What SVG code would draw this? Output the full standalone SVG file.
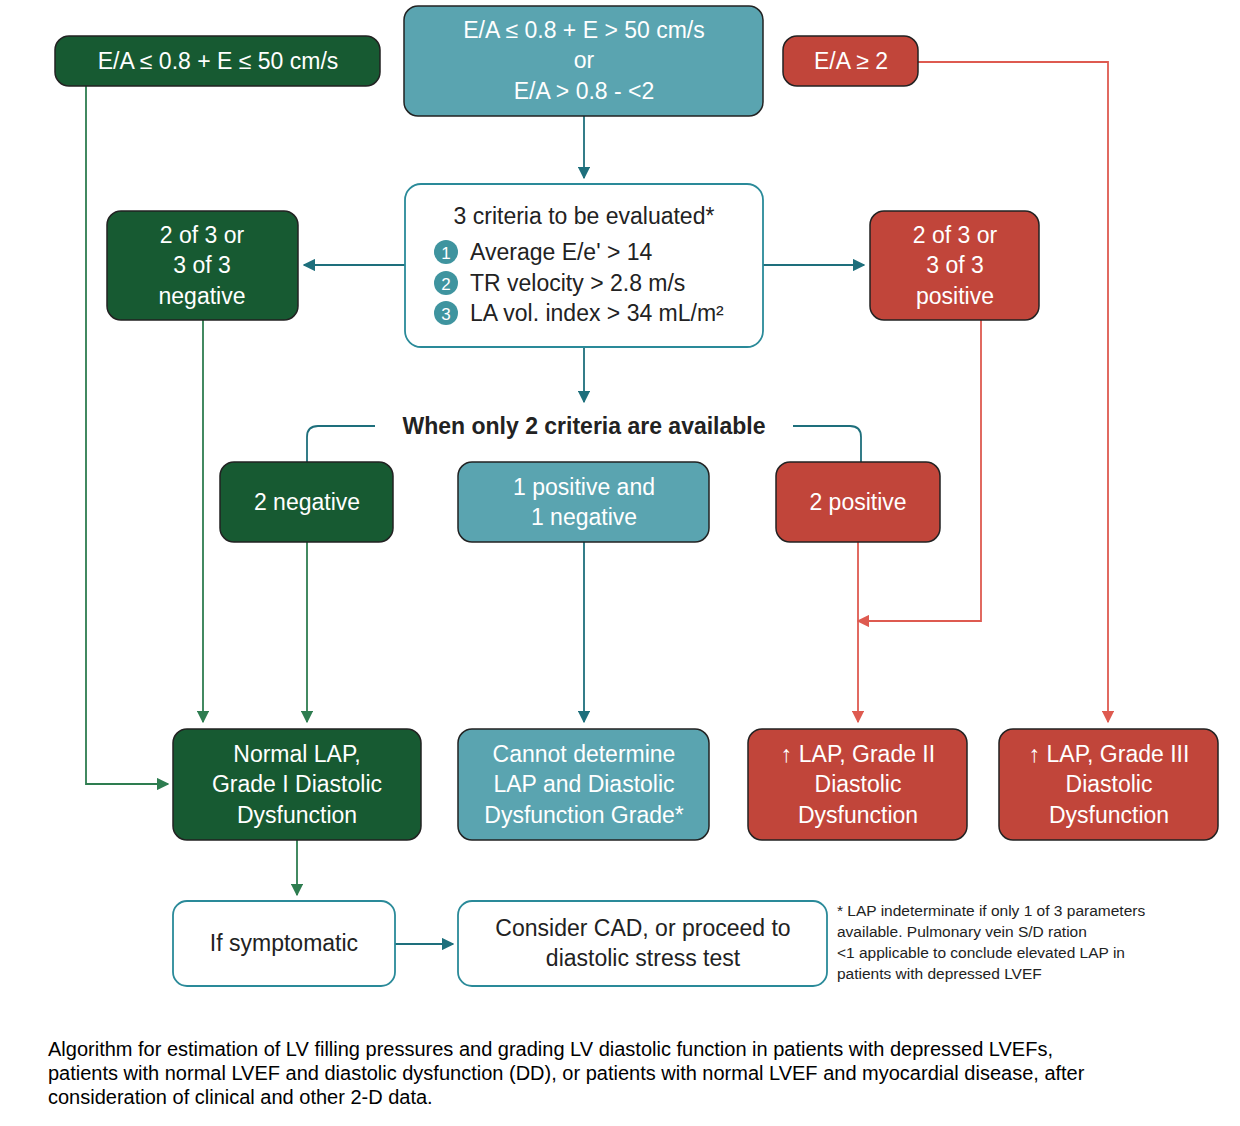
<svg xmlns="http://www.w3.org/2000/svg" width="1240" height="1126" viewBox="0 0 1240 1126">
<style>
text{font-family:"Liberation Sans",Arial,sans-serif;font-size:23px;text-anchor:middle}
.g{fill:#175a32;stroke:#222;stroke-width:1.5}
.t{fill:#5aa4b0;stroke:#222;stroke-width:1.5}
.r{fill:#c1453a;stroke:#222;stroke-width:1.5}
.w{fill:#fff;stroke:#2a8a99;stroke-width:1.8}
.lt{fill:#fff}
.dk{fill:#222}
.cg{stroke:#2e7d50;stroke-width:1.8;fill:none;marker-end:url(#ag)}
.ct{stroke:#1e6f7c;stroke-width:1.8;fill:none;marker-end:url(#at)}
.cr{stroke:#de5a50;stroke-width:1.8;fill:none;marker-end:url(#ar)}
.n{stroke:#1e6f7c;stroke-width:1.8;fill:none}
</style>
<defs>
<marker id="ag" viewBox="0 0 10 10" refX="9" refY="5" markerWidth="7" markerHeight="7" orient="auto"><path d="M0,0L10,5L0,10z" fill="#2e7d50"/></marker>
<marker id="at" viewBox="0 0 10 10" refX="9" refY="5" markerWidth="7" markerHeight="7" orient="auto"><path d="M0,0L10,5L0,10z" fill="#1e6f7c"/></marker>
<marker id="ar" viewBox="0 0 10 10" refX="9" refY="5" markerWidth="7" markerHeight="7" orient="auto"><path d="M0,0L10,5L0,10z" fill="#de5a50"/></marker>
</defs>
<rect width="1240" height="1126" fill="#fff"/>
<g id="connectors">
<path class="cg" d="M86,86V784H168"/>
<path class="ct" d="M584,116V178"/>
<path class="ct" d="M405,265H304"/>
<path class="ct" d="M763,265H864"/>
<path class="ct" d="M584,347V402"/>
<path class="n" d="M375,426H318Q307,426 307,437V462"/>
<path class="n" d="M793,426H850Q861,426 861,437V462"/>
<path class="cg" d="M203,320V722"/>
<path class="cg" d="M307,542V722"/>
<path class="ct" d="M584,542V722"/>
<path class="cr" d="M858,542V722"/>
<path class="cr" d="M981,320V621H858"/>
<path class="cr" d="M918,62H1108V722"/>
<path class="cg" d="M297,840V895"/>
<path class="ct" d="M395,944H453"/>
</g>
<g id="n1"><rect class="g" x="55" y="36" width="325" height="50" rx="14"/><text class="lt" x="218" y="69">E/A ≤ 0.8 + E ≤ 50 cm/s</text></g>
<g id="n2"><rect class="t" x="404" y="6" width="359" height="110" rx="14"/><text class="lt" x="584" y="38">E/A ≤ 0.8 + E &gt; 50 cm/s</text><text class="lt" x="584" y="68">or</text><text class="lt" x="584" y="99">E/A &gt; 0.8 - &lt;2</text></g>
<g id="n3"><rect class="r" x="783" y="36" width="135" height="50" rx="14"/><text class="lt" x="851" y="69">E/A ≥ 2</text></g>
<g id="n4"><rect class="w" x="405" y="184" width="358" height="163" rx="16"/>
<text class="dk" x="584" y="224">3 criteria to be evaluated*</text>
<circle cx="446" cy="252" r="12" fill="#3f949f"/><text class="lt" x="446" y="259" style="font-size:17px">1</text>
<circle cx="446" cy="283" r="12" fill="#3f949f"/><text class="lt" x="446" y="290" style="font-size:17px">2</text>
<circle cx="446" cy="313" r="12" fill="#3f949f"/><text class="lt" x="446" y="320" style="font-size:17px">3</text>
<text class="dk" x="470" y="260" style="text-anchor:start">Average E/e' &gt; 14</text>
<text class="dk" x="470" y="291" style="text-anchor:start">TR velocity &gt; 2.8 m/s</text>
<text class="dk" x="470" y="321" style="text-anchor:start">LA vol. index &gt; 34 mL/m²</text></g>
<g id="n5"><rect class="g" x="107" y="211" width="191" height="109" rx="14"/><text class="lt" x="202" y="243">2 of 3 or</text><text class="lt" x="202" y="273">3 of 3</text><text class="lt" x="202" y="304">negative</text></g>
<g id="n6"><rect class="r" x="870" y="211" width="169" height="109" rx="14"/><text class="lt" x="955" y="243">2 of 3 or</text><text class="lt" x="955" y="273">3 of 3</text><text class="lt" x="955" y="304">positive</text></g>
<g id="lbl"><text class="dk" x="584" y="434" style="font-weight:bold">When only 2 criteria are available</text></g>
<g id="n7"><rect class="g" x="220" y="462" width="173" height="80" rx="14"/><text class="lt" x="307" y="510">2 negative</text></g>
<g id="n8"><rect class="t" x="458" y="462" width="251" height="80" rx="14"/><text class="lt" x="584" y="495">1 positive and</text><text class="lt" x="584" y="525">1 negative</text></g>
<g id="n9"><rect class="r" x="776" y="462" width="164" height="80" rx="14"/><text class="lt" x="858" y="510">2 positive</text></g>
<g id="n10"><rect class="g" x="173" y="729" width="248" height="111" rx="14"/><text class="lt" x="297" y="762">Normal LAP,</text><text class="lt" x="297" y="792">Grade I Diastolic</text><text class="lt" x="297" y="823">Dysfunction</text></g>
<g id="n11"><rect class="t" x="458" y="729" width="251" height="111" rx="14"/><text class="lt" x="584" y="762">Cannot determine</text><text class="lt" x="584" y="792">LAP and Diastolic</text><text class="lt" x="584" y="823">Dysfunction Grade*</text></g>
<g id="n12"><rect class="r" x="748" y="729" width="219" height="111" rx="14"/><text class="lt" x="858" y="762">↑ LAP, Grade II</text><text class="lt" x="858" y="792">Diastolic</text><text class="lt" x="858" y="823">Dysfunction</text></g>
<g id="n13"><rect class="r" x="999" y="729" width="219" height="111" rx="14"/><text class="lt" x="1109" y="762">↑ LAP, Grade III</text><text class="lt" x="1109" y="792">Diastolic</text><text class="lt" x="1109" y="823">Dysfunction</text></g>
<g id="n14"><rect class="w" x="173" y="901" width="222" height="85" rx="14"/><text class="dk" x="284" y="951">If symptomatic</text></g>
<g id="n15"><rect class="w" x="458" y="901" width="369" height="85" rx="14"/><text class="dk" x="643" y="936">Consider CAD, or proceed to</text><text class="dk" x="643" y="966">diastolic stress test</text></g>
<g id="note" style="font-size:15.5px"><text class="dk" x="837" y="916" style="text-anchor:start;font-size:15.5px">* LAP indeterminate if only 1 of 3 parameters</text><text class="dk" x="837" y="937" style="text-anchor:start;font-size:15.5px">available. Pulmonary vein S/D ration</text><text class="dk" x="837" y="958" style="text-anchor:start;font-size:15.5px">&lt;1 applicable to conclude elevated LAP in</text><text class="dk" x="837" y="979" style="text-anchor:start;font-size:15.5px">patients with depressed LVEF</text></g>
<g id="caption"><text x="48" y="1056" style="text-anchor:start;font-size:20px;fill:#000">Algorithm for estimation of LV filling pressures and grading LV diastolic function in patients with depressed LVEFs,</text><text x="48" y="1080" style="text-anchor:start;font-size:20px;fill:#000">patients with normal LVEF and diastolic dysfunction (DD), or patients with normal LVEF and myocardial disease, after</text><text x="48" y="1104" style="text-anchor:start;font-size:20px;fill:#000">consideration of clinical and other 2-D data.</text></g>
</svg>
